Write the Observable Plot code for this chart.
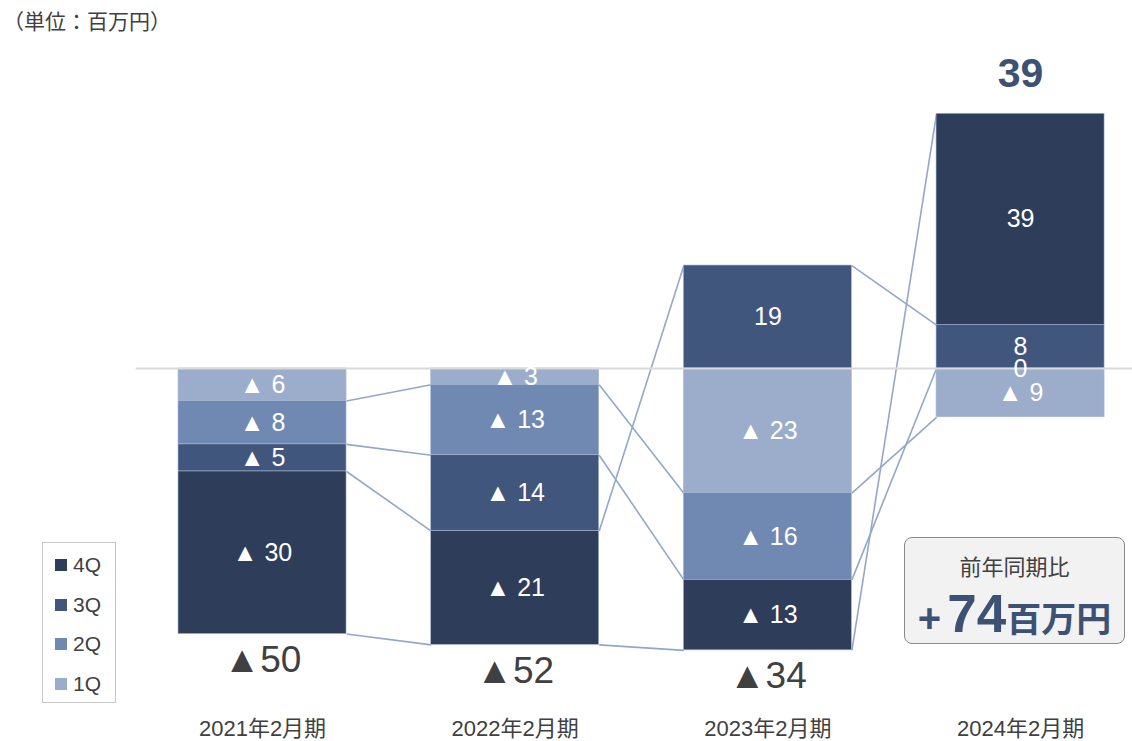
<!DOCTYPE html>
<html><head><meta charset="utf-8">
<script src="https://cdn.jsdelivr.net/npm/d3@7"></script>
<script src="https://cdn.jsdelivr.net/npm/@observablehq/plot@0.6"></script>
<style>
body{margin:0;background:#fff;font-family:"Liberation Sans","Noto Sans CJK JP",sans-serif;color:#404040;}
#wrap{position:relative;width:1132px;height:741px;overflow:hidden;}
#unit{position:absolute;left:3px;top:11px;font-size:21px;line-height:22px;color:#404040;}
#chart{position:absolute;left:0;top:40px;}
#legend{position:absolute;left:42px;top:542px;width:72px;height:159px;border:1.5px solid #c8c8c8;background:#fff;}
.li{position:absolute;left:12px;height:20px;display:flex;align-items:center;font-size:21px;color:#404040;}
.sw{width:12px;height:12px;margin-right:6px;}
#cmp{position:absolute;left:904px;top:537px;width:219px;height:105px;border:1.5px solid #8a8a8a;border-radius:8px;background:#f2f2f2;text-align:center;}
#cmp .t{position:absolute;left:0;right:0;top:18px;font-size:22px;line-height:24px;color:#404040;}
#cmp .v{position:absolute;left:0;right:0;top:51px;line-height:50px;color:#3d5175;font-weight:bold;white-space:nowrap;}
</style></head>
<body>
<div id="wrap">
<div id="unit">（単位：百万円）</div>
<div id="chart"></div>
<div id="legend"></div>
<div id="cmp"><div class="t">前年同期比</div><div class="v"><span style="font-size:40px;margin-right:6px">+</span><span style="font-size:53px">74</span><span style="font-size:35px">百万円</span></div></div>
</div>
<script>
const periods = ["2021年2月期","2022年2月期","2023年2月期","2024年2月期"];
const quarters = ["1Q","2Q","3Q","4Q"];
const q1 = [-6, -3, -23, -9];
const q2 = [-8, -13, -16, 0];
const q3 = [-5, -14, 19, 8];
const q4 = [-30, -21, -13, 39];
const totals = [-50, -52, -34, 39];
const colors = ["#9badca", "#6f89b3", "#41567c", "#2e3d59"];

const series = [q1, q2, q3, q4];
const hw = 0.3325;
const fmt = v => v < 0 ? "▲ " + (-v) : String(v);
const fmtTotal = v => v < 0 ? "▲" + (-v) : String(v);

const rows = [];
const ends = [];
periods.forEach((p, i) => {
  let pos = 0, neg = 0;
  quarters.forEach((q, k) => {
    const v = series[k][i];
    let y1, y2;
    if (v >= 0) { y1 = pos; y2 = pos + v; pos = y2; }
    else { y1 = neg; y2 = neg + v; neg = y2; }
    rows.push({i, q, k, v, y1, y2, label: fmt(v)});
  });
  ends.push({i, pos, neg, total: totals[i]});
});
const links = [];
quarters.forEach((q, k) => {
  for (let i = 0; i < periods.length - 1; i++) {
    const a = rows.find(r => r.i === i && r.k === k);
    const b = rows.find(r => r.i === i + 1 && r.k === k);
    links.push({x1: i + hw, y1: a.y2, x2: i + 1 - hw, y2: b.y2});
  }
});
const xDomain = [-1.037, 3.443];
const negTotals = ends.filter(d => d.total < 0);
const posTotals = ends.filter(d => d.total >= 0);

const chart = Plot.plot({
  width: 1132, height: 701,
  marginLeft: 0, marginRight: 0, marginTop: 0, marginBottom: 40,
  x: {type: "linear", domain: xDomain},
  y: {domain: [-61.44, 60.52], axis: null},
  color: {domain: quarters, range: colors},
  style: {fontFamily: '"Liberation Sans","Noto Sans CJK JP",sans-serif', color: "#404040", background: "white"},
  marks: [
    Plot.link(links, {x1: "x1", y1: "y1", x2: "x2", y2: "y2", stroke: "#93a7cb", strokeWidth: 1.6}),
    Plot.rect(rows, {x1: d => d.i - hw, x2: d => d.i + hw, y1: "y1", y2: "y2", fill: "q", stroke: "#a9b8d4", strokeWidth: 0.6}),
    Plot.ruleY([0], {x1: -0.5, x2: xDomain[1], stroke: "#d9d9d9", strokeWidth: 2}),
    Plot.text(rows, {x: "i", y: d => (d.y1 + d.y2) / 2, text: "label", fill: "white", fontSize: 25}),
    Plot.text(negTotals, {x: "i", y: "neg", text: d => fmtTotal(d.total), dy: 26, fill: "#404040", fontSize: 37}),
    Plot.text(posTotals, {x: "i", y: "pos", text: d => fmtTotal(d.total), dy: -40, fill: "#3d5175", fontSize: 41, fontWeight: "bold"}),
    Plot.axisX({ticks: [0, 1, 2, 3], tickFormat: i => periods[i], tickSize: 0, tickPadding: 19, fontSize: 22, label: null})
  ]
});
document.getElementById("chart").appendChild(chart);

const legend = document.getElementById("legend");
const legendOrder = ["4Q", "3Q", "2Q", "1Q"];
legendOrder.forEach((q, j) => {
  const el = document.createElement("div");
  el.className = "li";
  el.style.top = (12 + j * 39.7) + "px";
  const sw = document.createElement("div");
  sw.className = "sw";
  sw.style.background = colors[quarters.indexOf(q)];
  el.appendChild(sw);
  el.appendChild(document.createTextNode(q));
  legend.appendChild(el);
});
</script>
</body></html>
